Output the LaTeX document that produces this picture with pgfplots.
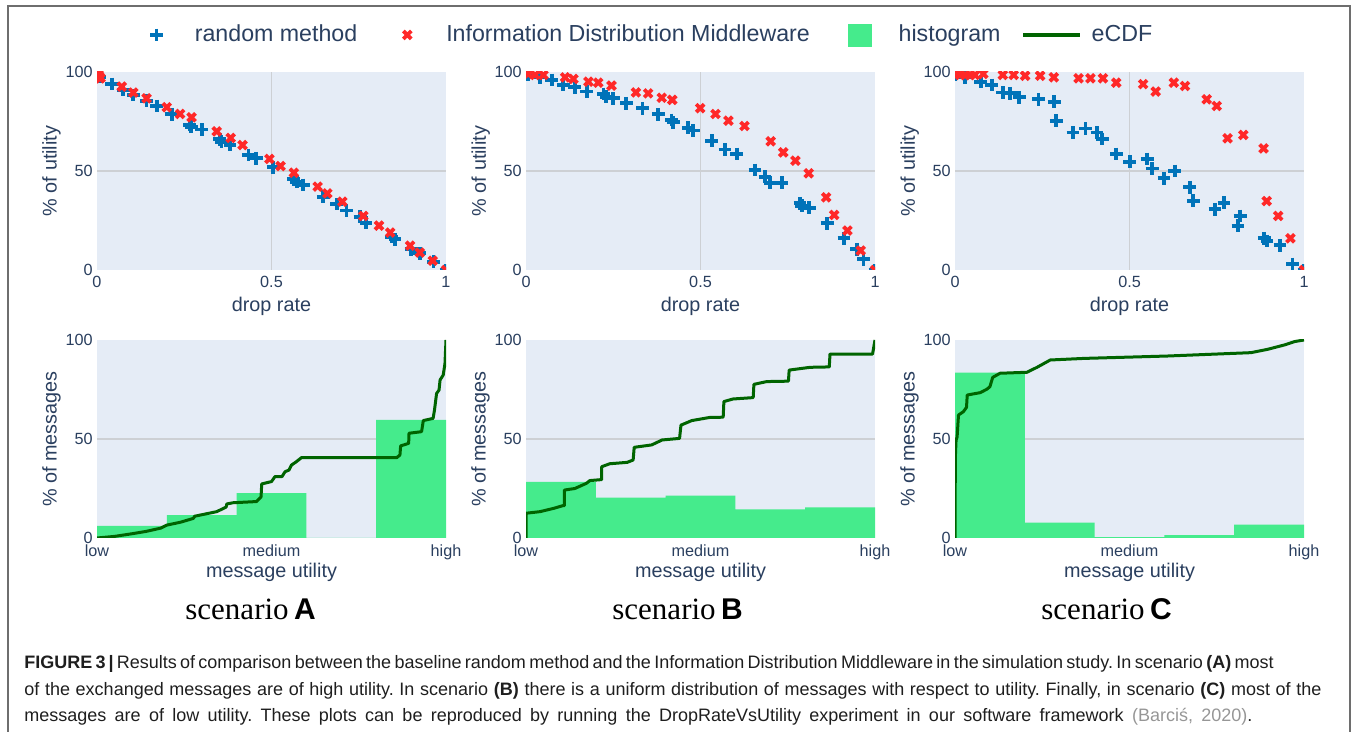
\documentclass[border=0pt]{standalone}
\usepackage{fontspec}
\setmainfont{Liberation Sans}
\newfontfamily\seriffont{Liberation Serif}
\usepackage{pgfplots}
\pgfplotsset{compat=1.18}
\definecolor{bgc}{RGB}{229,236,246}
\definecolor{txt}{RGB}{42,63,95}
\definecolor{blu}{RGB}{0,115,185}
\definecolor{rd}{RGB}{255,40,40}
\definecolor{hg}{RGB}{69,235,140}
\definecolor{dg}{RGB}{0,100,0}
\definecolor{grd}{RGB}{205,208,212}
\definecolor{framec}{RGB}{110,110,110}
\definecolor{capgray}{RGB}{150,150,150}
\definecolor{captxt}{RGB}{30,30,30}

\pgfplotsset{
  base/.style={
    scale only axis, width=174.5pt, height=99pt,
    xmin=0, xmax=1, ymin=0, ymax=100,
    axis background/.style={fill=bgc},
    axis line style={draw=none},
    major tick length=0pt, tick style={draw=none},
    ytick={0,50,100}, xtick={0,0.5,1},
    /pgf/number format/assume math mode=true,
    tick label style={font=\fontsize{8.1}{9}\selectfont, text=txt},
    yticklabel style={inner sep=2pt},
    xticklabel style={inner sep=3pt},
    label style={font=\fontsize{9.9}{11}\selectfont, text=txt},
    ylabel style={at={(axis description cs:-0.13,0.5)}, anchor=center},
    major grid style={draw=grd, line width=0.6pt},
    extra y ticks={50}, extra y tick labels={}, extra y tick style={grid=major},
    clip marker paths=true,
  },
  top/.style={base,
    extra x ticks={0.5}, extra x tick labels={}, extra x tick style={grid=major},
    xlabel={drop rate}, ylabel={\% of utility},
    xlabel style={at={(axis description cs:0.5,-0.182)}, anchor=center},
  },
  bot/.style={base,
    xticklabels={low,medium,high},
    xlabel={message utility}, ylabel={\% of messages},
    xlabel style={at={(axis description cs:0.5,-0.172)}, anchor=center},
  },
  randm/.style={only marks, mark=+, mark size=3.2pt, line width=1.9pt, color=blu},
  idm/.style={only marks, mark=x, mark size=2.8pt, line width=1.9pt, color=rd},
  hist/.style={fill=hg, draw=none, const plot},
  ecdf/.style={dg, line width=1.5pt, line join=round},
}
\newcommand{\capline}[2]{\makebox[#1][s]{#2}}

\begin{document}
\begin{tikzpicture}
\path[use as bounding box] (0,0) rectangle (677pt,366pt);
\draw[framec, line width=1pt] (4pt,0) -- (4pt,363pt) -- (675pt,363pt) -- (675pt,0);

% ---------- Scenario A top ----------
\begin{axis}[top, at={(48.5pt,231pt)}, anchor=south west,
  legend columns=4,
  legend style={at={(axis description cs:0.152,1.187)}, anchor=west,
    draw=none, fill=none, inner sep=0pt, outer sep=0pt,
    font=\fontsize{11.6}{14}\selectfont, text=txt,
    column sep=0pt, nodes={inner sep=0pt}},
]
\addplot[randm] coordinates {(0,98.5)(0.0086,97.6)(0.042,93.9)(0.075,90.9)(0.104,88.4)(0.142,85.5)(0.171,82.8)(0.214,78.6)(0.266,73.2)(0.27,72.3)(0.30,71.0)(0.352,66.0)(0.357,64.8)(0.381,63.1)(0.434,58.1)(0.456,56.4)(0.505,51.9)(0.564,45.8)(0.572,44.6)(0.591,42.9)(0.648,37.0)(0.687,33.3)(0.715,30.0)(0.754,26.9)(0.771,23.9)(0.844,16.8)(0.854,15.5)(0.90,10.4)(0.925,8.4)(0.964,4.2)(1,0)};
\addlegendentry{\hspace{16pt}random method\hspace{23pt}\mbox{}}
\addplot[idm] coordinates {(0,100)(0.002,99.5)(0.004,99)(0.006,98)(0.0086,96.8)(0.01,97)(0.071,92.6)(0.104,89.6)(0.142,86.7)(0.20,82.2)(0.238,78.8)(0.271,77.1)(0.343,70.0)(0.383,66.7)(0.417,63.1)(0.494,56.1)(0.526,52.5)(0.564,49.1)(0.632,42.1)(0.66,38.7)(0.703,34.5)(0.763,27.3)(0.808,22.4)(0.84,18.9)(0.897,12.3)(0.925,8.8)(0.962,4.7)(1,0)};
\addlegendentry{\hspace{17.5pt}Information Distribution Middleware\hspace{19pt}\mbox{}}
\addlegendimage{legend image code/.code={\fill[hg] (0pt,-5.5pt) rectangle (11.5pt,5.5pt);}}
\addlegendentry{\hspace{13.5pt}histogram\hspace{10.5pt}\mbox{}}
\addlegendimage{legend image code/.code={\draw[dg, line width=1.6pt] (0pt,0pt) -- (28.5pt,0pt);}}
\addlegendentry{\hspace{5pt}eCDF}
\end{axis}

% ---------- Scenario B top ----------
\begin{axis}[top, at={(263pt,231pt)}, anchor=south west]
\addplot[randm] coordinates {(0.0067,98.5)(0.04,97.3)(0.0735,96.0)(0.107,93.4)(0.14,92.3)(0.174,90.1)(0.222,88.9)(0.229,87.5)(0.25,86.7)(0.287,84.2)(0.334,81.7)(0.379,78.6)(0.417,75.8)(0.422,74.6)(0.465,71.9)(0.479,70.4)(0.532,65.3)(0.57,60.9)(0.604,58.6)(0.656,50.5)(0.685,47.1)(0.699,44.1)(0.733,44.1)(0.785,33.7)(0.79,32.5)(0.812,31.5)(0.863,23.6)(0.911,16.0)(0.948,10.4)(0.967,5.4)(1,0)};
\addplot[idm] coordinates {(0,100)(0.0067,99)(0.026,98.5)(0.05,98.5)(0.112,97.3)(0.136,96.5)(0.179,95.1)(0.207,94.6)(0.245,93.1)(0.315,89.7)(0.35,89.2)(0.389,87.0)(0.419,85.9)(0.499,81.7)(0.543,78.8)(0.58,75.4)(0.626,72.7)(0.701,65.0)(0.737,59.4)(0.772,55.2)(0.81,48.8)(0.86,36.7)(0.883,27.8)(0.921,19.9)(0.959,9.8)(1,0)};
\end{axis}

% ---------- Scenario C top ----------
\begin{axis}[top, at={(477.5pt,231pt)}, anchor=south west]
\addplot[randm] coordinates {(0,98.5)(0.029,97.3)(0.074,95.1)(0.105,93.4)(0.137,89.6)(0.158,89.2)(0.184,87.2)(0.239,86.2)(0.284,85.0)(0.29,75.3)(0.338,69.4)(0.374,71.5)(0.407,69.4)(0.422,66.2)(0.462,58.6)(0.501,54.7)(0.551,56.1)(0.565,51.3)(0.599,46.3)(0.63,50.0)(0.673,41.8)(0.683,35.0)(0.745,30.6)(0.771,34.0)(0.811,22.4)(0.817,27.3)(0.886,16.0)(0.894,14.6)(0.931,12.5)(0.967,3.0)(1,0)};
\addplot[idm] coordinates {(0,100)(0.005,99.5)(0.014,98.5)(0.029,98.5)(0.043,98.5)(0.057,98.5)(0.081,99.0)(0.137,98.5)(0.168,98.5)(0.201,98.1)(0.244,98.1)(0.283,97.3)(0.354,96.8)(0.388,96.8)(0.424,96.8)(0.462,94.6)(0.539,93.9)(0.575,90.1)(0.627,94.6)(0.659,92.9)(0.721,86.2)(0.75,82.8)(0.781,66.5)(0.826,68.2)(0.884,61.4)(0.893,34.8)(0.926,27.3)(0.961,16.0)(1,0)};
\end{axis}

% ---------- Scenario A bottom ----------
\begin{axis}[bot, at={(48.5pt,97pt)}, anchor=south west]
\addplot[hist] coordinates {(0,6.1)(0.2,11.6)(0.4,22.7)(0.6,0)(0.8,59.6)(1,59.6)} \closedcycle;
\addplot[ecdf] coordinates {(0,0)(0.05,0.8)(0.095,2.0)(0.14,3.3)(0.183,5)(0.2,6.5)(0.24,8)(0.276,9.9)(0.28,11)(0.343,13.3)(0.37,15.6)(0.372,17.2)(0.39,17.8)(0.457,18.4)(0.47,20.7)(0.472,27.3)(0.50,28.5)(0.51,31)(0.53,31)(0.539,33.5)(0.55,34.3)(0.557,36.8)(0.571,38.5)(0.586,40.6)(0.859,40.6)(0.868,41.9)(0.870,46.5)(0.893,47.8)(0.894,52.9)(0.93,53.7)(0.935,59.3)(0.963,60.4)(0.967,64.6)(0.973,73)(0.98,74.7)(0.983,79.8)(0.992,82.3)(0.997,88)(1,100)};
\end{axis}

% ---------- Scenario B bottom ----------
\begin{axis}[bot, at={(263pt,97pt)}, anchor=south west]
\addplot[hist] coordinates {(0,28.4)(0.2,20.4)(0.4,21.4)(0.6,14.4)(0.8,15.4)(1,15.4)} \closedcycle;
\addplot[ecdf] coordinates {(0,0)(0,12.5)(0.04,13.3)(0.08,15)(0.105,16.3)(0.11,16.3)(0.11,24.2)(0.14,25)(0.173,27.6)(0.183,29)(0.217,29.5)(0.217,36)(0.24,37.5)(0.29,38.2)(0.307,39.4)(0.31,45.8)(0.36,47)(0.39,49.5)(0.44,50.3)(0.444,57)(0.475,59.3)(0.527,60.9)(0.565,61)(0.567,68.9)(0.593,70.2)(0.651,70.9)(0.653,77.6)(0.69,79)(0.752,79.2)(0.754,84.8)(0.814,86.2)(0.869,86.4)(0.871,92.9)(0.993,92.9)(1,100)};
\end{axis}

% ---------- Scenario C bottom ----------
\begin{axis}[bot, at={(477.5pt,97pt)}, anchor=south west]
\addplot[hist] coordinates {(0,83.5)(0.2,7.7)(0.4,0.5)(0.6,1.5)(0.8,6.7)(1,6.7)} \closedcycle;
\addplot[ecdf] coordinates {(0,0)(0.001,41)(0.003,49.3)(0.006,51)(0.01,62.1)(0.024,63.8)(0.033,66)(0.035,72.2)(0.072,73.4)(0.091,75.1)(0.10,76.4)(0.108,81.1)(0.129,83.2)(0.206,83.7)(0.235,86.2)(0.273,89.9)(0.37,90.7)(0.608,91.9)(0.848,93.6)(0.896,95.3)(0.944,97.5)(0.973,99.2)(1,100)};
\end{axis}

% ---------- scenario labels ----------
\node[anchor=base west, inner sep=0pt] at (92.5pt,56pt) {{\seriffont\fontsize{15.5}{18}\selectfont scenario} {\fontsize{15}{18}\selectfont\bfseries A}};
\node[anchor=base west, inner sep=0pt] at (306pt,56pt) {{\seriffont\fontsize{15.5}{18}\selectfont scenario} {\fontsize{15}{18}\selectfont\bfseries B}};
\node[anchor=base west, inner sep=0pt] at (520.5pt,56pt) {{\seriffont\fontsize{15.5}{18}\selectfont scenario} {\fontsize{15}{18}\selectfont\bfseries C}};

% ---------- caption ----------
\begin{scope}[every node/.style={anchor=base west, inner sep=0pt, text=captxt, font=\fontsize{9.0}{10}\selectfont\frenchspacing}]
\node at (12pt,31.5pt) {\capline{620.5pt}{\textbf{FIGURE 3\,|}\,Results of comparison between the baseline random method and the Information Distribution Middleware in the simulation study. In scenario \textbf{(A)} most}};
\node at (12pt,18.25pt) {\capline{648.5pt}{of the exchanged messages are of high utility. In scenario \textbf{(B)} there is a uniform distribution of messages with respect to utility. Finally, in scenario \textbf{(C)} most of the}};
\node at (12pt,5pt) {\capline{614pt}{messages are of low utility. These plots can be reproduced by running the DropRateVsUtility experiment in our software framework {\color{capgray}(Barciś, 2020)}.}};
\end{scope}
\end{tikzpicture}
\end{document}
